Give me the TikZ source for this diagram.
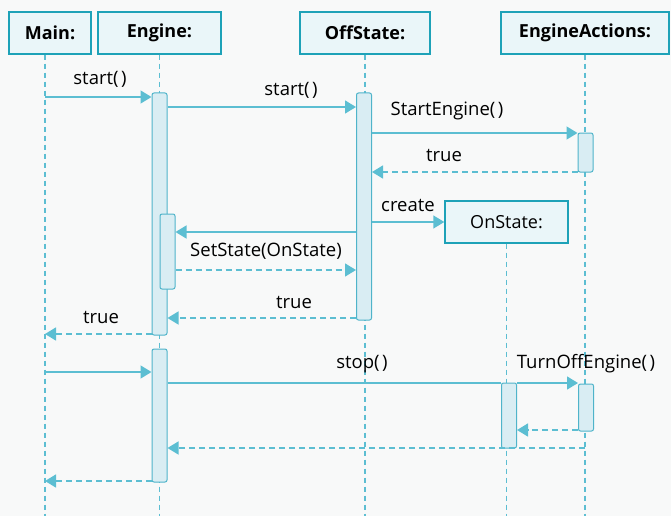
\documentclass[tikz,border=0pt]{standalone}
\usepackage{fontspec}
\setmainfont{Open Sans}
\usetikzlibrary{arrows.meta}
\definecolor{bgc}{HTML}{F8F9F9}
\definecolor{hdrline}{HTML}{1EA2B8}
\definecolor{hdrfill}{HTML}{EAF6F9}
\definecolor{msgc}{HTML}{5CBED2}
\definecolor{actfill}{HTML}{D9EDF3}
\definecolor{actline}{HTML}{4FB4CA}
% empty parameter list with a little air between the brackets
\newcommand\noargs{(\kern2.5pt)}
\tikzset{
  header/.style={draw=hdrline, fill=hdrfill, line width=1.4pt, inner sep=0pt,
    minimum height=42pt, font=\fontsize{18}{21}\selectfont\bfseries},
  created/.style={header, font=\fontsize{18}{21}\selectfont},
  lifeline/.style={draw=msgc, line width=1.4pt, dash pattern=on 5pt off 4pt},
  actbox/.style={draw=actline, fill=actfill, line width=1pt, rounded corners=2pt,
    inner sep=0pt, minimum width=15pt},
  msg/.style={draw=msgc, line width=1.4pt, -{Triangle[length=11pt,width=13pt]}},
  ret/.style={msg, dash pattern=on 6pt off 4pt},
  lbl/.style={font=\fontsize{18.5}{21}\selectfont, inner sep=0pt}
}
\begin{document}
\begin{tikzpicture}[x=1pt,y=-1pt]
  \fill[bgc] (0,0) rectangle (671,516);
  \useasboundingbox (0,0) rectangle (671,516);

  % object headers
  \node[header, minimum width=82pt]  (main) at (50,33)   {Main:};
  \node[header, minimum width=123pt] (eng)  at (159.5,33) {Engine:};
  \node[header, minimum width=130pt] (off)  at (365,33)  {OffState:};
  \node[header, minimum width=168pt] (act)  at (585,33)  {EngineActions:};
  \node[created, minimum width=123pt] (on)  at (506.5,222) {OnState:};

  % lifeline tops and ends
  \coordinate (mainS) at ([xshift=-5pt]main.south);
  \coordinate (mainE) at (mainS |- 0,516);
  \coordinate (engE)  at (eng.south |- 0,516);
  \coordinate (offE)  at (off.south |- 0,516);
  \coordinate (actE)  at (act.south |- 0,516);
  \coordinate (onE)   at (on.south |- 0,516);

  % lifelines
  \draw[lifeline] (mainS) -- (mainE);
  \draw[lifeline] (eng.south)  -- (engE);
  \draw[lifeline] (off.south)  -- (offE);
  \draw[lifeline] (act.south)  -- (actE);
  \draw[lifeline] (on.south)   -- (onE);

  % activation bars
  \node[actbox, minimum height=242pt] (e1) at (159.5,214) {};
  \node[actbox, minimum height=75pt]  (e2) at (167.5,251.5) {};
  \node[actbox, minimum height=227pt] (o1) at (364,206.5) {};
  \node[actbox, minimum height=39pt]  (a1) at (585.5,152.5) {};
  \node[actbox, minimum height=133pt] (e3) at (159.5,415.5) {};
  \node[actbox, minimum height=65pt]  (n1) at (509,415.5) {};
  \node[actbox, minimum height=47pt]  (a2) at (586,407.5) {};

  % first scenario: start
  \draw[msg] (mainS |- 0,97) -- (e1.west |- 0,97);
  \node[lbl] (l1) at (100,79) {start\noargs};
  \draw[msg] (e1.east |- 0,107) -- (o1.west |- 0,107);
  \node[lbl] (l2) at (291,90) {start\noargs};
  \draw[msg] (o1.east |- 0,133) -- (a1.west |- 0,133);
  \node[lbl] (l3) at (447,111) {StartEngine\noargs};
  \draw[ret] (a1.west |- 0,172) -- (o1.east |- 0,172);
  \node[lbl] (l4) at (444,155) {true};
  \draw[msg] (o1.east |- 0,222) -- (on.west);
  \node[lbl] (l5) at (408,205) {create};
  \draw[msg] (o1.west |- 0,232) -- (e2.east |- 0,232);
  \node[lbl] (l6) at (266,251) {SetState(OnState)};
  \draw[ret] (e2.east |- 0,270) -- (o1.west |- 0,270);
  \draw[ret] (o1.west |- 0,318) -- (e1.east |- 0,318);
  \node[lbl] (l7) at (294,302) {true};
  \draw[ret] (e1.west |- 0,334) -- (mainS |- 0,334);
  \node[lbl] (l8) at (101,317) {true};

  % second scenario: stop
  \draw[msg] (mainS |- 0,372) -- (e3.west |- 0,372);
  \draw[draw=msgc, line width=1.4pt] (e3.east |- 0,383) -- (n1.west |- 0,383);
  \draw[msg] (n1.east |- 0,383) -- (a2.west |- 0,383);
  \node[lbl] (l9) at (362,364) {stop\noargs};
  \node[lbl] (l10) at (586,364) {TurnOffEngine\noargs};
  \draw[ret] (a2.west |- 0,430) -- (n1.east |- 0,430);
  \draw[ret] (act.south |- 0,448) -- (e3.east |- 0,448);
  \draw[ret] (e3.west |- 0,481) -- (mainS |- 0,481);
\end{tikzpicture}
\end{document}
